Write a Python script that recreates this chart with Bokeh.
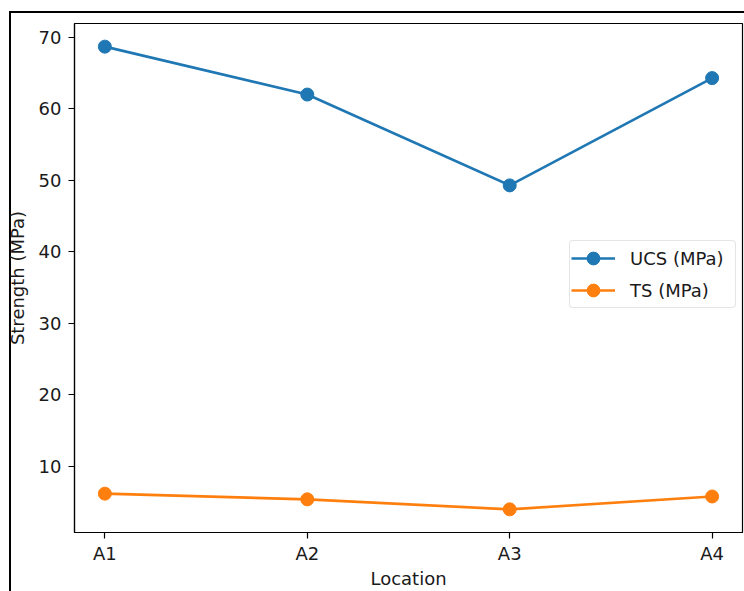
from bokeh.plotting import figure
from bokeh.models import Range1d, FixedTicker, Legend, LegendItem, ColumnDataSource
from bokeh.embed import file_html
from bokeh.resources import INLINE

# ---- data ----
locations = ["A1", "A2", "A3", "A4"]
ucs_mpa = [68.7, 62.0, 49.3, 64.3]
ts_mpa = [6.2, 5.4, 4.0, 5.8]
y_ticks = [10, 20, 30, 40, 50, 60, 70]

BLUE = "#1f77b4"
ORANGE = "#ff7f0e"
FONT = "DejaVu Sans"
FS = "18px"
TXT = "#1a1a1a"

x_idx = list(range(len(locations)))
src = ColumnDataSource(dict(x=x_idx, ucs=ucs_mpa, ts=ts_mpa))

lo = min(ts_mpa)
hi = max(ucs_mpa)
pad = 0.05 * (hi - lo)
xpad = 0.05 * (len(locations) - 1)

p = figure(width=744, height=591, output_backend="svg", toolbar_location=None,
           x_range=Range1d(-xpad, len(locations) - 1 + xpad),
           y_range=Range1d(lo - pad, hi + pad),
           min_border_left=74, min_border_right=2, min_border_top=23, min_border_bottom=57)

# outer frame of the screenshot (drawn behind a transparent canvas border)
p.styles = {"background": "linear-gradient(#000,#000) 9px 11px / 2px 100% no-repeat, "
                          "linear-gradient(#000,#000) 9px 11px / 100% 2px no-repeat, #ffffff"}

p.background_fill_color = "white"
p.border_fill_color = None
p.outline_line_color = "black"
p.outline_line_width = 1.2
p.xgrid.visible = False
p.ygrid.visible = False

l1 = p.line("x", "ucs", source=src, line_color=BLUE, line_width=2.6)
c1 = p.scatter("x", "ucs", source=src, size=13, fill_color=BLUE, line_color=BLUE)
l2 = p.line("x", "ts", source=src, line_color=ORANGE, line_width=2.6)
c2 = p.scatter("x", "ts", source=src, size=13, fill_color=ORANGE, line_color=ORANGE)

for ax in (p.xaxis[0], p.yaxis[0]):
    ax.major_label_text_font = FONT
    ax.major_label_text_font_size = FS
    ax.major_label_text_color = TXT
    ax.axis_label_text_font = FONT
    ax.axis_label_text_font_size = FS
    ax.axis_label_text_font_style = "normal"
    ax.axis_label_text_color = TXT
    ax.axis_line_color = "black"
    ax.axis_line_width = 1.2
    ax.major_tick_line_color = "black"
    ax.major_tick_line_width = 1.2
    ax.major_tick_out = 6
    ax.major_tick_in = 0
    ax.minor_tick_out = 0
    ax.minor_tick_in = 0

p.xaxis[0].ticker = FixedTicker(ticks=x_idx)
p.xaxis[0].major_label_overrides = {i: name for i, name in zip(x_idx, locations)}
p.xaxis[0].axis_label = "Location"
p.xaxis[0].major_label_standoff = 4
p.xaxis[0].axis_label_standoff = 1

p.yaxis[0].ticker = FixedTicker(ticks=y_ticks)
p.yaxis[0].axis_label = "Strength (MPa)"
p.yaxis[0].major_label_standoff = 7
p.yaxis[0].axis_label_standoff = 8

legend = Legend(items=[LegendItem(label="UCS (MPa)", renderers=[l1, c1]),
                       LegendItem(label="TS (MPa)", renderers=[l2, c2])],
                location=(495, 224))
legend.label_text_font = FONT
legend.label_text_font_size = FS
legend.label_text_color = TXT
legend.glyph_width = 44
legend.glyph_height = 32
legend.label_height = 32
legend.label_width = 104
legend.label_standoff = 15
legend.padding = 1
legend.spacing = -3
legend.margin = 0
legend.border_line_color = "#cccccc"
legend.border_line_width = 1
legend.background_fill_alpha = 0.8
if "border_radius" in Legend.properties():
    legend.border_radius = 4
p.add_layout(legend)

open("out.html", "w").write(file_html(p, INLINE))
